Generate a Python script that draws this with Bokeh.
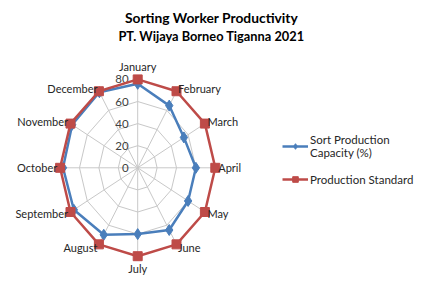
import math
from bokeh.plotting import figure
from bokeh.models import ColumnDataSource, Legend, LegendItem, Range1d
from bokeh.core.properties import value
from bokeh.embed import file_html
from bokeh.resources import INLINE

months = ["January", "February", "March", "April", "May", "June",
          "July", "August", "September", "October", "November", "December"]
sort_capacity = [76, 65, 55, 60, 60, 65, 60, 70, 76, 77, 78, 79]
production_standard = [80, 80, 80, 80, 80, 80, 80, 80, 80, 80, 80, 80]
radial_ticks = [0, 20, 40, 60, 80]
title_lines = ["Sorting Worker Productivity", "PT. Wijaya Borneo Tiganna 2021"]
series_names = ["Sort Production\nCapacity (%)", "Production Standard"]

FONT = "Lato"
W, H = 425, 287
sx, sy = 0.97, 1.105          # px per data unit
cx_px, cy_px = 137.2, 167.3   # centre of radar in px
x0 = -cx_px / sx
x1 = x0 + W / sx
y0 = -(H - cy_px) / sy
y1 = y0 + H / sy

p = figure(width=W, height=H, x_range=Range1d(x0, x1), y_range=Range1d(y0, y1),
           output_backend="svg", toolbar_location=None, min_border=0,
           x_axis_type=None, y_axis_type=None)
p.grid.visible = False
p.outline_line_color = None
p.background_fill_color = "white"

n = len(months)
theta = [2 * math.pi * i / n for i in range(n)]
rmax = radial_ticks[-1]

# grid rings
ring_xs, ring_ys = [], []
for t in radial_ticks[1:]:
    ring_xs.append([t * math.sin(a) for a in theta])
    ring_ys.append([t * math.cos(a) for a in theta])
p.patches(ring_xs, ring_ys, fill_color=None, line_color="#c8c8c8", line_width=1)
# spokes
p.segment(x0=[0] * n, y0=[0] * n, x1=[rmax * math.sin(a) for a in theta],
          y1=[rmax * math.cos(a) for a in theta], line_color="#c8c8c8", line_width=1)

# tick labels
p.text(x=[0] * len(radial_ticks), y=radial_ticks, text=[str(t) for t in radial_ticks],
       text_align="right", text_baseline="middle", x_offset=-9,
       text_font=value(FONT), text_font_size="11.5px", text_color="#404040")

def closed(vals, f):
    pts = [v * f(a) for v, a in zip(vals, theta)]
    return pts + [pts[0]]

blue = "#4A7EBB"
red = "#BE4B48"

src_b = ColumnDataSource(dict(x=[v * math.sin(a) for v, a in zip(sort_capacity, theta)],
                              y=[v * math.cos(a) for v, a in zip(sort_capacity, theta)]))
src_r = ColumnDataSource(dict(x=[v * math.sin(a) for v, a in zip(production_standard, theta)],
                              y=[v * math.cos(a) for v, a in zip(production_standard, theta)]))

lb = p.line(closed(sort_capacity, math.sin), closed(sort_capacity, math.cos),
            line_color=blue, line_width=2.5)
sb = p.scatter("x", "y", source=src_b, marker="diamond", size=11,
               fill_color=blue, line_color=blue)
lr = p.line(closed(production_standard, math.sin), closed(production_standard, math.cos),
            line_color=red, line_width=2.5)
sr = p.scatter("x", "y", source=src_r, marker="square", size=9,
               fill_color=red, line_color=red)

# month labels
lx, ly, al = [], [], []
for a in theta:
    s, c = math.sin(a), math.cos(a)
    if abs(s) < 1e-6:
        r = 91.5
        al.append("center")
    else:
        r = 83
        al.append("left" if s > 0 else "right")
    lx.append(r * s)
    ly.append(r * c)
p.text(x=lx, y=ly, text=months, text_align=al, text_baseline="middle",
       text_font=value(FONT), text_font_size="11px", text_color="#262626")

# title
p.text(x=[(211 - cx_px) / sx] * 2, y=[(cy_px - 17) / sy, (cy_px - 35.5) / sy], text=title_lines,
       text_align="center", text_baseline="middle", text_font=value(FONT),
       text_font_style="bold", text_font_size=["13.8px", "12.8px"], text_color="#000000")

legend = Legend(items=[LegendItem(label=series_names[0], renderers=[lb, sb]),
                       LegendItem(label=series_names[1], renderers=[lr, sr])],
                location=(282, 101), label_text_font=FONT, label_text_font_size="11.5px",
                label_text_line_height=1.4,
                label_text_color="#262626", glyph_width=26, glyph_height=14,
                border_line_color=None, background_fill_alpha=0, padding=0, margin=0,
                spacing=13, label_standoff=2)
p.add_layout(legend)

open("out.html", "w").write(file_html(p, INLINE))
